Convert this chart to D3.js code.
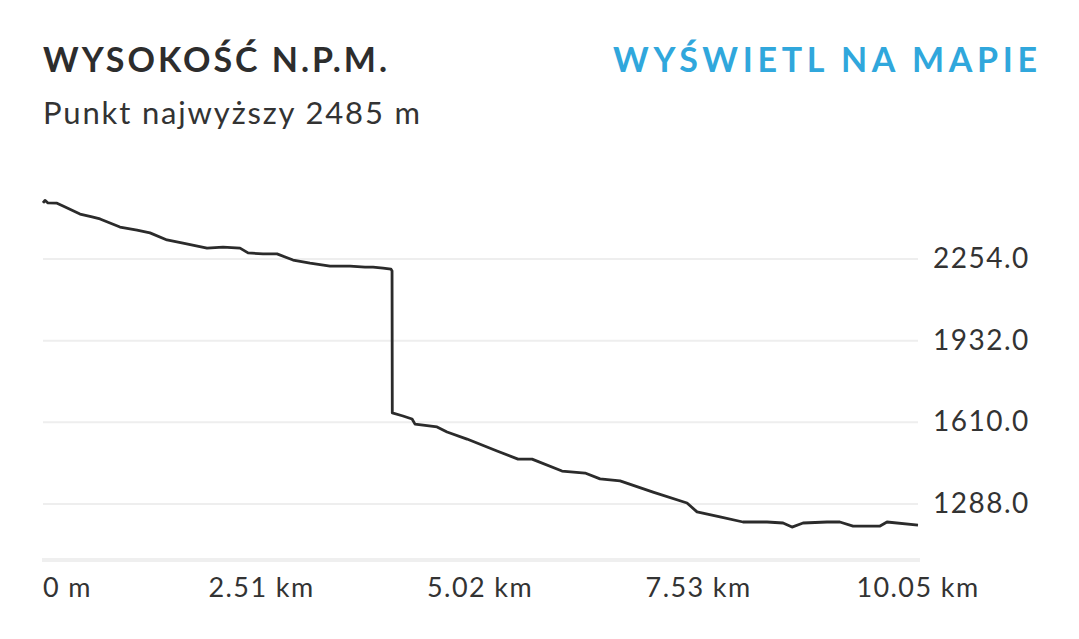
<!DOCTYPE html>
<html>
<head>
<meta charset="utf-8">
<script src="https://cdn.jsdelivr.net/npm/d3@7"></script>
<style>
  html, body { margin: 0; padding: 0; background: #fff; }
  svg { display: block; }
</style>
</head>
<body>
<svg id="chart" width="1079" height="639"></svg>
<script>
const titleText = "WYSOKOŚĆ N.P.M.";
const linkText = "WYŚWIETL NA MAPIE";
const subtitleText = "Punkt najwyższy 2485 m";

// distance along route (km)
const distanceKm = [0, 0.023, 0.057, 0.161, 0.230, 0.425, 0.563, 0.655, 0.884, 1.080, 1.229, 1.424, 1.608, 1.884, 2.068, 2.263, 2.355, 2.527, 2.688, 2.872, 3.067, 3.297, 3.527, 3.699, 3.791, 3.906, 3.997, 4.009, 4.012, 4.135, 4.239, 4.273, 4.526, 4.641, 4.870, 5.215, 5.456, 5.617, 5.961, 6.226, 6.398, 6.628, 7.007, 7.397, 7.512, 7.776, 8.040, 8.316, 8.500, 8.603, 8.730, 9.005, 9.152, 9.304, 9.614, 9.694, 10.050];
// elevation (m)
const elevationM = [2475, 2485, 2475, 2474, 2463, 2431, 2420, 2412, 2380, 2368, 2357, 2329, 2317, 2297, 2301, 2297, 2278, 2274, 2274, 2250, 2238, 2226, 2226, 2222, 2222, 2218, 2214, 2207, 1647, 1635, 1623, 1603, 1592, 1572, 1544, 1497, 1465, 1465, 1418, 1410, 1387, 1379, 1335, 1292, 1257, 1237, 1217, 1217, 1213, 1197, 1213, 1217, 1217, 1201, 1201, 1217, 1205];

const yTicks = [2254, 1932, 1610, 1288];
const xTicks = [0, 2.51, 5.02, 7.53, 10.05];
const xTickLabels = ["0 m", "2.51 km", "5.02 km", "7.53 km", "10.05 km"];

const data = distanceKm.map((d, i) => ({ d, e: elevationM[i] }));

const svg = d3.select("#chart");
const font = "Lato, 'Open Sans', sans-serif";

const x = d3.scaleLinear().domain([0, 10.05]).range([43, 918]);
const y = d3.scaleLinear().domain([1288, 2254]).range([504, 259]);
const yBase = 560;

// header
svg.append("text").attr("x", 43).attr("y", 72)
  .attr("font-family", font).attr("font-weight", 700).attr("font-size", 34)
  .attr("textLength", 344).attr("lengthAdjust", "spacing")
  .attr("fill", "#2d2d2d").text(titleText);
svg.append("text").attr("x", 613).attr("y", 72)
  .attr("font-family", font).attr("font-weight", 700).attr("font-size", 34)
  .attr("textLength", 424).attr("lengthAdjust", "spacing")
  .attr("fill", "#30a7dc").text(linkText);
svg.append("text").attr("x", 43).attr("y", 124)
  .attr("font-family", font).attr("font-weight", 400).attr("font-size", 31)
  .attr("textLength", 377).attr("lengthAdjust", "spacing")
  .attr("fill", "#333").text(subtitleText);

// gridlines
svg.append("g").selectAll("line").data(yTicks).join("line")
  .attr("x1", 43).attr("x2", 918)
  .attr("y1", d => y(d)).attr("y2", d => y(d))
  .attr("stroke", "#eeeeee").attr("stroke-width", 2);

// baseline
svg.append("line").attr("x1", 42).attr("x2", 920)
  .attr("y1", yBase).attr("y2", yBase)
  .attr("stroke", "#efefef").attr("stroke-width", 4);

// y labels
svg.append("g").selectAll("text").data(yTicks).join("text")
  .attr("x", 933).attr("y", d => y(d) + 9)
  .attr("font-family", font).attr("font-size", 28).attr("fill", "#333")
  .attr("letter-spacing", 1.5)
  .text(d => d3.format(".1f")(d));

// x labels
svg.append("g").selectAll("text").data(xTicks).join("text")
  .attr("x", d => x(d)).attr("y", 597)
  .attr("text-anchor", (d, i) => i === 0 ? "start" : "middle")
  .attr("font-family", font).attr("font-size", 27).attr("fill", "#333")
  .attr("letter-spacing", 1.4)
  .text((d, i) => xTickLabels[i]);

// elevation line
const line = d3.line().x(d => x(d.d)).y(d => y(d.e));
svg.append("path").datum(data)
  .attr("d", line)
  .attr("fill", "none").attr("stroke", "#2b2b2b")
  .attr("stroke-width", 2.8).attr("stroke-linejoin", "round");
</script>
</body>
</html>
